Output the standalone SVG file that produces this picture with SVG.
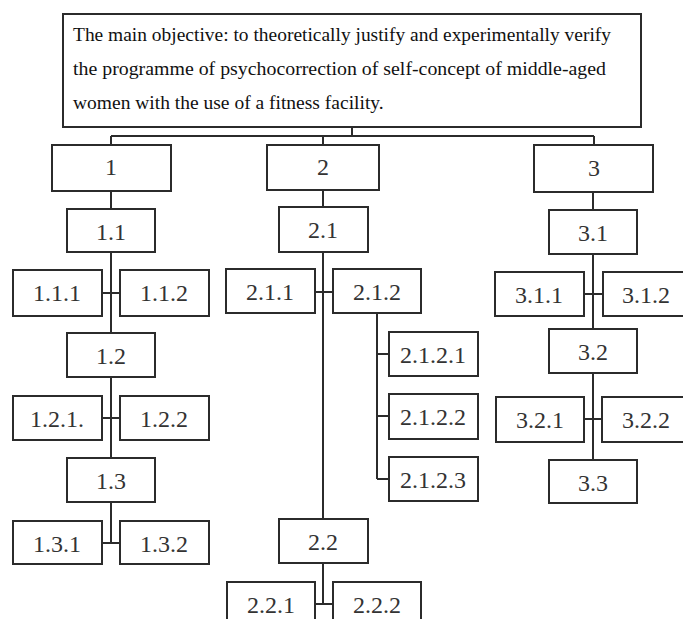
<svg xmlns="http://www.w3.org/2000/svg" width="683" height="619" viewBox="0 0 683 619">
<style>
.box{fill:#fff;stroke:#2b2b2b;stroke-width:2}
.lbl{font-family:"Liberation Serif","Times New Roman",serif;font-size:24px;fill:#333;text-anchor:middle}
.main{font-family:"Liberation Serif","Times New Roman",serif;font-size:19.5px;fill:#111}
.con{stroke:#2b2b2b;stroke-width:2;fill:none}
</style>
<rect width="683" height="619" fill="#fff"/>
<g id="connectors" class="con">
<path d="M352 127V136M111 136H594M111 136V145M323 136V145M594 136V145"/>
<path d="M111 191V209M111 252V333M111 377V458M111 502V543M102 293H120M102 418H120M102 543H120"/>
<path d="M323 190V207M323 252V519M323 563V604M315 292H333M315 604H333"/>
<path d="M377 313V479M377 354H389M377 416H389M377 479H389"/>
<path d="M593 192V210M593 254V329M593 373V460M584 294H602M584 419H602"/>
</g>
<g id="main"><rect class="box" x="63" y="14" width="578" height="113"/>
<text class="main" x="73" y="41" textLength="538" lengthAdjust="spacingAndGlyphs">The main objective: to theoretically justify and experimentally verify</text>
<text class="main" x="73" y="75" textLength="533" lengthAdjust="spacingAndGlyphs">the programme of psychocorrection of self-concept of middle-aged</text>
<text class="main" x="73" y="109">women with the use of a fitness facility.</text></g>
<g id="n1"><rect class="box" x="52" y="145" width="119" height="46"/><text class="lbl" x="111" y="175">1</text></g>
<g id="n2"><rect class="box" x="267" y="145" width="112" height="45"/><text class="lbl" x="323" y="175">2</text></g>
<g id="n3"><rect class="box" x="534" y="145" width="119" height="47"/><text class="lbl" x="594" y="176">3</text></g>
<g id="n1_1"><rect class="box" x="67" y="209" width="88" height="43"/><text class="lbl" x="111" y="240">1.1</text></g>
<g id="n1_1_1"><rect class="box" x="13" y="270" width="89" height="46"/><text class="lbl" x="57" y="301">1.1.1</text></g>
<g id="n1_1_2"><rect class="box" x="120" y="270" width="89" height="46"/><text class="lbl" x="164" y="301">1.1.2</text></g>
<g id="n1_2"><rect class="box" x="67" y="333" width="88" height="44"/><text class="lbl" x="111" y="364">1.2</text></g>
<g id="n1_2_1"><rect class="box" x="13" y="396" width="89" height="44"/><text class="lbl" x="57" y="427">1.2.1.</text></g>
<g id="n1_2_2"><rect class="box" x="120" y="396" width="89" height="44"/><text class="lbl" x="164" y="427">1.2.2</text></g>
<g id="n1_3"><rect class="box" x="67" y="458" width="88" height="44"/><text class="lbl" x="111" y="489">1.3</text></g>
<g id="n1_3_1"><rect class="box" x="13" y="521" width="89" height="43"/><text class="lbl" x="57" y="552">1.3.1</text></g>
<g id="n1_3_2"><rect class="box" x="120" y="521" width="89" height="43"/><text class="lbl" x="164" y="552">1.3.2</text></g>
<g id="n2_1"><rect class="box" x="279" y="207" width="89" height="45"/><text class="lbl" x="323" y="238">2.1</text></g>
<g id="n2_1_1"><rect class="box" x="226" y="269" width="89" height="44"/><text class="lbl" x="270" y="300">2.1.1</text></g>
<g id="n2_1_2"><rect class="box" x="333" y="269" width="88" height="44"/><text class="lbl" x="377" y="300">2.1.2</text></g>
<g id="n2_1_2_1"><rect class="box" x="389" y="332" width="89" height="44"/><text class="lbl" x="433" y="363">2.1.2.1</text></g>
<g id="n2_1_2_2"><rect class="box" x="389" y="394" width="89" height="45"/><text class="lbl" x="433" y="425">2.1.2.2</text></g>
<g id="n2_1_2_3"><rect class="box" x="389" y="457" width="89" height="44"/><text class="lbl" x="433" y="488">2.1.2.3</text></g>
<g id="n2_2"><rect class="box" x="279" y="519" width="89" height="44"/><text class="lbl" x="323" y="550">2.2</text></g>
<g id="n2_2_1"><rect class="box" x="227" y="582" width="88" height="46"/><text class="lbl" x="271" y="613">2.2.1</text></g>
<g id="n2_2_2"><rect class="box" x="333" y="582" width="88" height="46"/><text class="lbl" x="377" y="613">2.2.2</text></g>
<g id="n3_1"><rect class="box" x="549" y="210" width="88" height="44"/><text class="lbl" x="593" y="241">3.1</text></g>
<g id="n3_1_1"><rect class="box" x="495" y="272" width="89" height="44"/><text class="lbl" x="539" y="303">3.1.1</text></g>
<g id="n3_1_2"><rect class="box" x="603" y="272" width="89" height="44"/><text class="lbl" x="646" y="303">3.1.2</text></g>
<g id="n3_2"><rect class="box" x="549" y="329" width="88" height="44"/><text class="lbl" x="593" y="360">3.2</text></g>
<g id="n3_2_1"><rect class="box" x="496" y="397" width="88" height="45"/><text class="lbl" x="540" y="428">3.2.1</text></g>
<g id="n3_2_2"><rect class="box" x="602" y="397" width="89" height="45"/><text class="lbl" x="646" y="428">3.2.2</text></g>
<g id="n3_3"><rect class="box" x="549" y="460" width="88" height="43"/><text class="lbl" x="593" y="491">3.3</text></g>
</svg>
